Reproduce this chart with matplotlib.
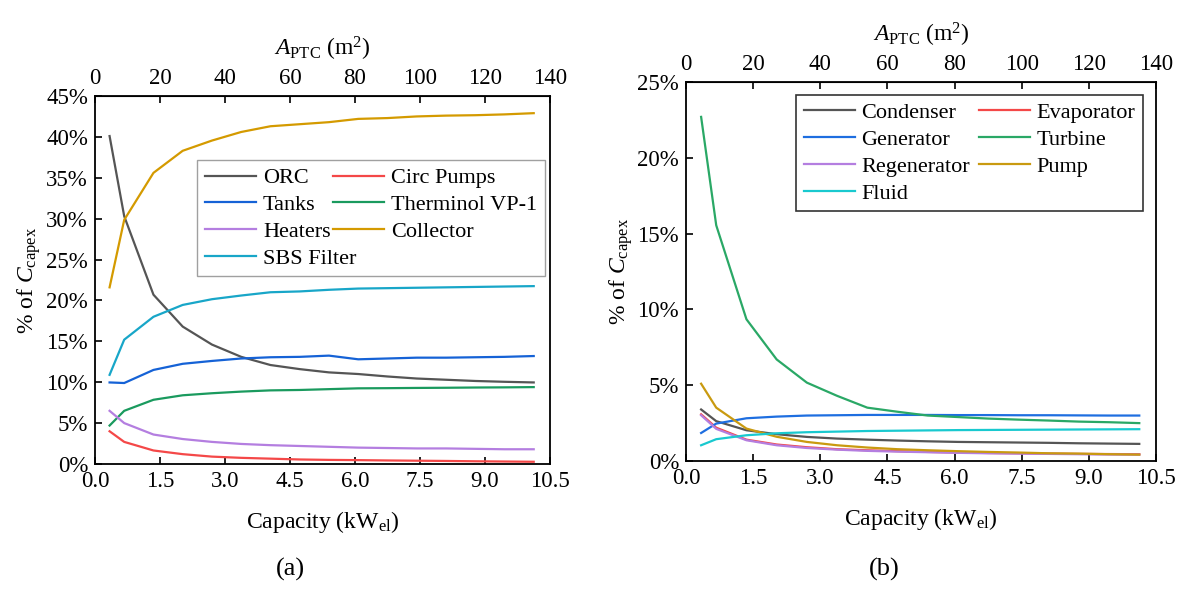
import numpy as np
import matplotlib
matplotlib.use('Agg')
import matplotlib.pyplot as plt
from matplotlib.ticker import PercentFormatter, MultipleLocator

plt.rcParams['font.family'] = ['Liberation Serif', 'DejaVu Serif']
plt.rcParams['mathtext.fontset'] = 'custom'
plt.rcParams['mathtext.rm'] = 'Liberation Serif'
plt.rcParams['mathtext.it'] = 'Liberation Serif:italic'

# collector area (m2) and the matching electrical capacity (kW_el)
area = [4.5, 9, 18, 27, 36, 45, 54, 63, 72, 81, 90, 99, 108, 117, 126, 135]
capacity = [a * 0.075 for a in area]

# (a) plant level shares of capex, %
orc = [40.1, 30.3, 20.7, 16.8, 14.6, 13.1, 12.1, 11.6, 11.2, 11.0, 10.7, 10.45, 10.3, 10.15, 10.05, 9.97]
circ_pumps = [4.0, 2.7, 1.65, 1.2, 0.9, 0.75, 0.65, 0.55, 0.5, 0.47, 0.43, 0.4, 0.37, 0.33, 0.3, 0.27]
tanks = [9.97, 9.9, 11.5, 12.25, 12.6, 12.9, 13.05, 13.1, 13.25, 12.8, 12.9, 13.0, 13.0, 13.05, 13.1, 13.2]
therminol = [4.7, 6.5, 7.85, 8.4, 8.65, 8.85, 9.0, 9.05, 9.15, 9.25, 9.27, 9.3, 9.32, 9.35, 9.37, 9.4]
heaters = [6.5, 5.0, 3.6, 3.05, 2.7, 2.45, 2.3, 2.2, 2.1, 2.0, 1.95, 1.9, 1.9, 1.85, 1.8, 1.8]
collector = [21.6, 29.85, 35.6, 38.3, 39.55, 40.6, 41.3, 41.55, 41.8, 42.2, 42.3, 42.5, 42.6, 42.65, 42.75, 42.9]
sbs_filter = [10.9, 15.2, 18.0, 19.45, 20.15, 20.6, 21.0, 21.1, 21.3, 21.45, 21.5, 21.55, 21.6, 21.65, 21.7, 21.75]

# (b) ORC component shares of capex, %
condenser = [3.4, 2.63, 2.03, 1.77, 1.59, 1.48, 1.41, 1.35, 1.3, 1.26, 1.24, 1.22, 1.2, 1.17, 1.15, 1.13]
evaporator = [3.08, 2.2, 1.41, 1.09, 0.91, 0.78, 0.71, 0.65, 0.6, 0.56, 0.53, 0.51, 0.49, 0.47, 0.46, 0.45]
generator = [1.85, 2.47, 2.82, 2.93, 3.0, 3.02, 3.04, 3.04, 3.04, 3.03, 3.03, 3.02, 3.02, 3.01, 3.0, 3.0]
turbine = [22.7, 15.55, 9.35, 6.7, 5.17, 4.3, 3.52, 3.25, 3.0, 2.9, 2.8, 2.73, 2.67, 2.6, 2.56, 2.5]
regenerator = [3.02, 2.12, 1.37, 1.04, 0.86, 0.75, 0.67, 0.62, 0.58, 0.54, 0.51, 0.49, 0.47, 0.45, 0.43, 0.42]
pump = [5.1, 3.52, 2.14, 1.6, 1.26, 1.04, 0.89, 0.78, 0.71, 0.65, 0.6, 0.56, 0.51, 0.49, 0.45, 0.42]
fluid = [1.04, 1.44, 1.7, 1.83, 1.9, 1.94, 1.98, 2.0, 2.02, 2.04, 2.05, 2.06, 2.07, 2.08, 2.09, 2.1]

series_a = [('ORC', orc, '#555555'), ('Circ Pumps', circ_pumps, '#f44848'),
            ('Tanks', tanks, '#1562d6'), ('Therminol VP-1', therminol, '#1a9a5e'),
            ('Heaters', heaters, '#b47ee0'), ('Collector', collector, '#d49a00'),
            ('SBS Filter', sbs_filter, '#18a6c8')]
series_b = [('Condenser', condenser, '#555555'), ('Evaporator', evaporator, '#f44848'),
            ('Generator', generator, '#1e6ee0'), ('Turbine', turbine, '#2aa866'),
            ('Regenerator', regenerator, '#b47ee0'), ('Pump', pump, '#c99a10'),
            ('Fluid', fluid, '#19c9cf')]


def draw_panel(ax, series, ymax, legend_anchor, frame_color, colspace, letter, xletter):
    lines = []
    for name, vals, col in series:
        ln, = ax.plot(capacity, vals, color=col, lw=1.6, label=name)
        lines.append(ln)
    ax.set_xlim(0, 10.5)
    ax.set_ylim(0, ymax)
    ax.xaxis.set_major_locator(MultipleLocator(1.5))
    ax.xaxis.set_major_formatter(plt.FormatStrFormatter('%.1f'))
    ax.yaxis.set_major_locator(MultipleLocator(5))
    ax.yaxis.set_major_formatter(PercentFormatter(decimals=0))
    ax.tick_params(direction='in', labelsize=16.5, length=5, width=1.2, right=False, top=False, pad=5)
    for s in ax.spines.values():
        s.set_linewidth(1.3)
    ax.set_xlabel('Capacity (kW$_\\mathrm{el}$)', fontsize=17, labelpad=12)
    ax.set_ylabel('% of $C_\\mathrm{capex}$', fontsize=17, labelpad=2)

    sec = ax.secondary_xaxis('top', functions=(lambda x: x * 40 / 3, lambda a: a * 3 / 40))
    sec.xaxis.set_major_locator(MultipleLocator(20))
    sec.tick_params(direction='in', labelsize=16.5, length=5, width=1.2, pad=5)
    sec.set_xlabel('$A_\\mathrm{PTC}$ (m$^2$)', fontsize=17, labelpad=9)

    # legend is filled row by row, two entries per row
    order = [0, 2, 4, 6, 1, 3, 5]
    leg = ax.legend([lines[i] for i in order], [series[i][0] for i in order],
                    ncol=2, loc='upper left', bbox_to_anchor=legend_anchor, fontsize=16,
                    frameon=True, fancybox=False, handlelength=2.3, handletextpad=0.3,
                    columnspacing=colspace, labelspacing=0.28, borderpad=0.35, borderaxespad=0)
    leg.get_frame().set_edgecolor(frame_color)
    leg.get_frame().set_linewidth(1.2 if frame_color == 'black' else 1.0)
    ax.figure.text(xletter, 0.035, letter, fontsize=19, ha='center', va='center')


fig = plt.figure(figsize=(11.84, 5.90), dpi=100)
ax1 = fig.add_axes([0.0802, 0.2136, 0.3843, 0.6237])
ax2 = fig.add_axes([0.5794, 0.2186, 0.397, 0.6424])

draw_panel(ax1, series_a, 45, (0.225, 0.826), '#888888', -1.05, '(a)', 0.245)
draw_panel(ax2, series_b, 25, (0.234, 0.966), 'black', 0.4, '(b)', 0.747)

fig.savefig('out.png', dpi=100)
